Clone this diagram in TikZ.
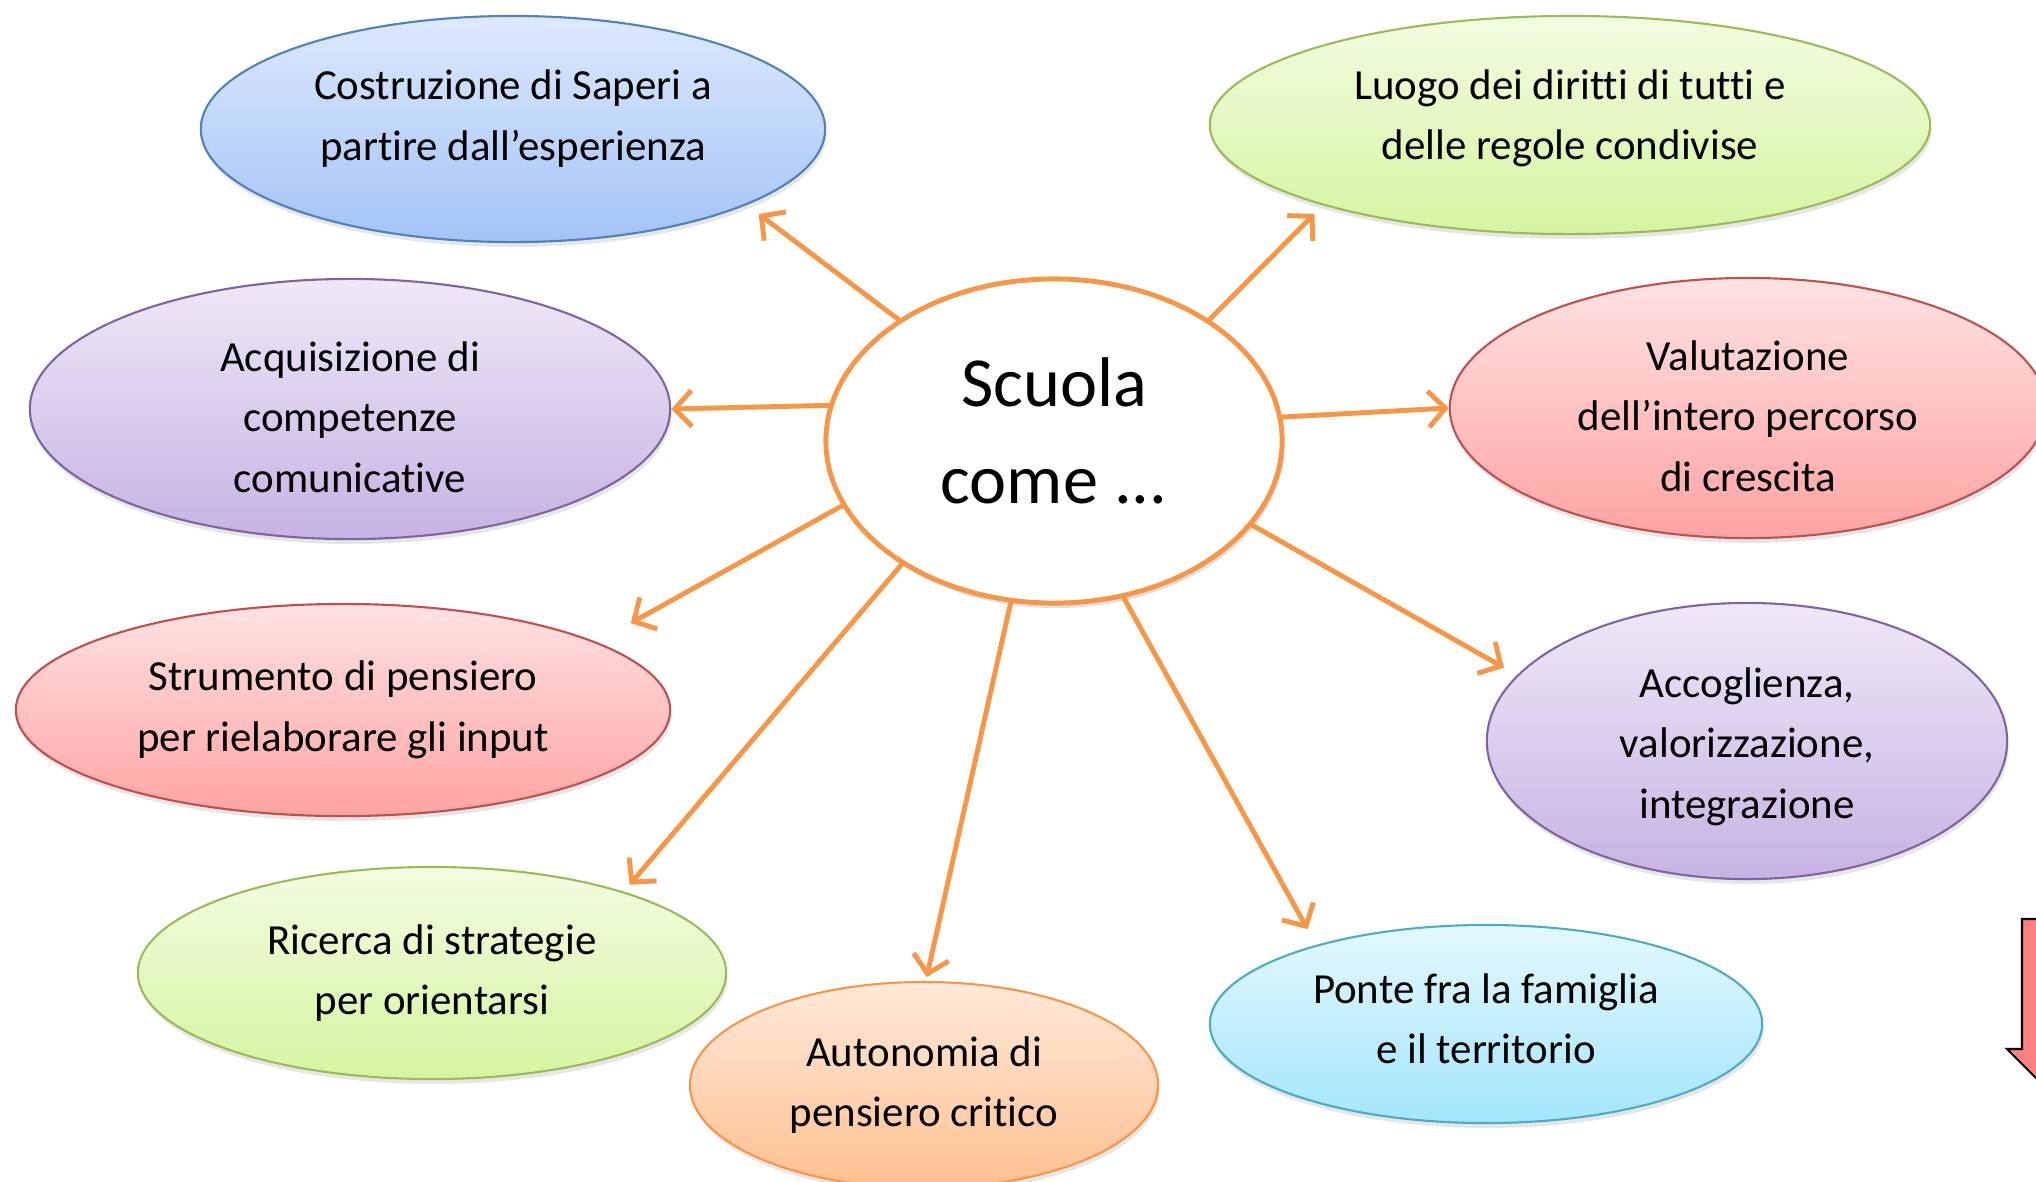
\documentclass[tikz,border=0pt]{standalone}
\usepackage{fontspec}
\setmainfont{Carlito}[Ligatures=CommonOff]
\usetikzlibrary{shapes.geometric,arrows.meta,shadows}
\definecolor{arancio}{HTML}{F79646}
\definecolor{aranA}{HTML}{FFE9DA}
\definecolor{aranB}{HTML}{FFC08F}
\definecolor{blu}{HTML}{4F81BD}
\definecolor{bluA}{HTML}{DDE9FD}
\definecolor{bluB}{HTML}{A3C3F7}
\definecolor{verde}{HTML}{9BBB59}
\definecolor{verdeA}{HTML}{F2FCE0}
\definecolor{verdeB}{HTML}{D5F5A0}
\definecolor{viola}{HTML}{8064A2}
\definecolor{violaA}{HTML}{EFE8F7}
\definecolor{violaB}{HTML}{C6B3E3}
\definecolor{rosso}{HTML}{C0504D}
\definecolor{rossoA}{HTML}{FFE2E2}
\definecolor{rossoB}{HTML}{FFA3A3}
\definecolor{azzurro}{HTML}{4BACC6}
\definecolor{azzA}{HTML}{E4F8FE}
\definecolor{azzB}{HTML}{A3E6FC}
\definecolor{frecciarossa}{HTML}{FF8080}
\begin{document}
\begin{tikzpicture}[x=0.01cm,y=-0.01cm,line join=round,line cap=round,
    bolla/.style={ellipse,inner sep=0pt,align=center,line width=.6pt,
        font=\fontsize{12.2}{17.2}\selectfont,
        drop shadow={opacity=.2,shadow xshift=.4pt,shadow yshift=-1.4pt}},
    blubolla/.style={bolla,draw=blu,top color=bluA,bottom color=bluB},
    verdebolla/.style={bolla,draw=verde,top color=verdeA,bottom color=verdeB},
    violabolla/.style={bolla,draw=viola,top color=violaA,bottom color=violaB},
    rossobolla/.style={bolla,draw=rosso,top color=rossoA,bottom color=rossoB},
    aranbolla/.style={bolla,draw=arancio,top color=aranA,bottom color=aranB},
    azzbolla/.style={bolla,draw=azzurro,top color=azzA,bottom color=azzB},
    freccia/.style={draw=arancio,line width=1.4pt,-{Straight Barb[length=1.7mm,width=3.6mm]}}]
    \useasboundingbox (0,0) rectangle (2036,1181);
    \clip (0,0) rectangle (2036,1181);
    % centro
    \node[ellipse,draw=arancio,fill=white,line width=1.4pt,minimum width=4.56cm,minimum height=3.24cm,
        align=center,font=\fontsize{20}{27.6}\selectfont,text depth=6pt,
        drop shadow={opacity=.25,shadow xshift=.6pt,shadow yshift=-1.4pt}] (scuola) at (1054,441) {Scuola\\come ...};
    % bolle
    \node[blubolla,minimum width=6.24cm,minimum height=2.26cm,text depth=8pt] (saperi) at (513,129) {Costruzione di Saperi a\\partire dall’esperienza};
    \node[verdebolla,minimum width=7.2cm,minimum height=2.18cm,text depth=6pt] (luogo) at (1570,125) {Luogo dei diritti di tutti e\\delle regole condivise};
    \node[violabolla,minimum width=6.4cm,minimum height=2.6cm,text height=47.5pt] (comunic) at (350,409) {Acquisizione di\\competenze\\comunicative};
    \node[rossobolla,minimum width=5.96cm,minimum height=2.6cm,text height=47.5pt] (valut) at (1748,408) {Valutazione\\dell’intero percorso\\di crescita};
    \node[rossobolla,minimum width=6.54cm,minimum height=2.12cm] (strum) at (343,710) {Strumento di pensiero\\per rielaborare gli input};
    \node[violabolla,minimum width=5.2cm,minimum height=2.76cm,text height=46pt] (accogl) at (1747,741) {Accoglienza,\\valorizzazione,\\integrazione};
    \node[verdebolla,minimum width=5.88cm,minimum height=2.12cm] (ricerca) at (432,973) {Ricerca di strategie\\per orientarsi};
    \node[aranbolla,minimum width=4.68cm,minimum height=2.06cm] (auton) at (924,1085) {Autonomia di\\pensiero critico};
    \node[azzbolla,minimum width=5.52cm,minimum height=1.98cm,text depth=3pt] (ponte) at (1486,1024) {Ponte fra la famiglia\\e il territorio};
    % frecce
    \draw[freccia,shorten >=.15cm] (scuola.142) -- (saperi.-18);
    \draw[freccia,shorten >=.12cm] (scuola.38) -- (luogo.198);
    \draw[freccia] (scuola.171) -- (comunic.0);
    \draw[freccia] (scuola.6) -- (valut.180);
    \draw[freccia,shorten >=.39cm] (scuola.197) -- (strum.15);
    \draw[freccia,shorten >=.15cm] (scuola.-23) -- (accogl.164);
    \draw[freccia,shorten >=.09cm] (scuola.219) -- (ricerca.23);
    \draw[freccia,shorten >=.04cm] (scuola.255) -- (auton.89);
    \draw[freccia,shorten >=.18cm] (scuola.-66) -- (ponte.155);
    % freccia rossa al bordo
    \filldraw[fill=frecciarossa,draw=black,line width=.6pt,line cap=butt,line join=miter]
        (2022,919) -- (2068,919) -- (2068,1049) -- (2083,1049) -- (2045,1087)
        -- (2007,1049) -- (2022,1049) -- cycle;
\end{tikzpicture}
\end{document}
